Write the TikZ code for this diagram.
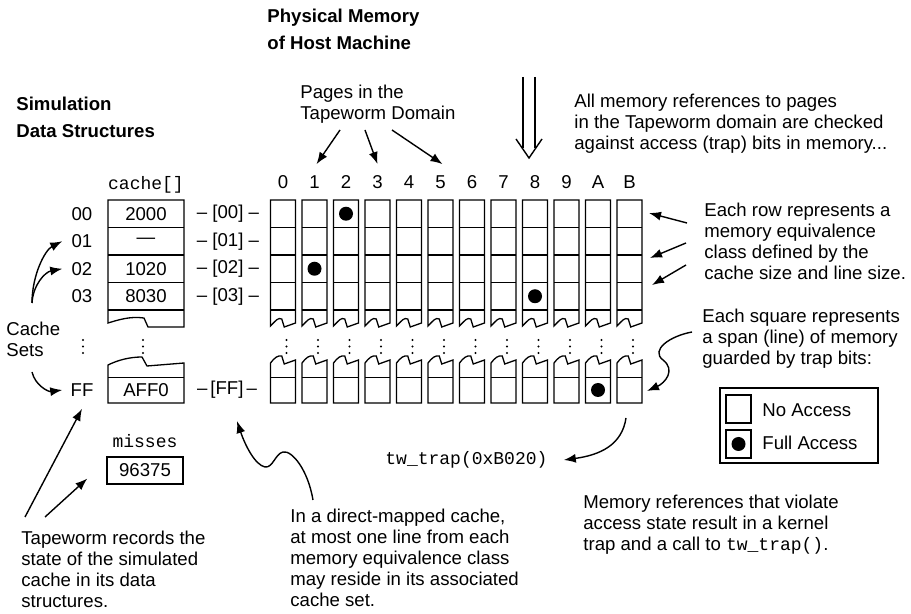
\documentclass[tikz,border=0pt]{standalone}
\usepackage{fontspec}
\setmainfont{Liberation Sans}
\setmonofont{Liberation Mono}
\usetikzlibrary{arrows.meta}

\def\colLeft{270.5}
\def\colPitch{31.5}
\def\colWidth{25}
\def\rowHeight{27.5}
\def\gridTop{200}

\tikzset{
  body/.style={font=\fontsize{9.3}{10.6}\selectfont, align=left, inner sep=0pt},
  heading/.style={font=\fontsize{9.3}{13.5}\selectfont\bfseries, align=left, inner sep=0pt},
  code/.style={font=\fontsize{9}{10}\selectfont\ttfamily, inner sep=0pt},
  arr/.style={line width=0.7pt, -{Latex[length=6pt,width=4.5pt]}},
  cell/.style={line width=0.65pt},
}

\begin{document}
\begin{tikzpicture}[x=0.5pt, y=-0.5pt]
    \useasboundingbox (0,0) rectangle (911,614);

    \node[heading, anchor=base west] (physmem) at (267,50) {Physical Memory\\of Host Machine};
    \node[heading, anchor=base west] (simdata) at (16,138) {Simulation\\Data Structures};

    \draw[line width=0.7pt] (523,77) -- (523,148) (535,77) -- (535,148);
    \draw[line width=0.7pt] (516,139) -- (529,158) -- (542,139);

    \foreach \i/\t in {0/0,1/1,2/2,3/3,4/4,5/5,6/6,7/7,8/8,9/9,10/A,11/B} {
      \pgfmathsetmacro{\x}{\colLeft+\i*\colPitch}
      \draw[cell] (\x,326) -- (\x,\gridTop) -- (\x+\colWidth,\gridTop) -- (\x+\colWidth,323) -- (\x+0.55*\colWidth,327) -- (\x+0.45*\colWidth,319) .. controls (\x+0.3*\colWidth,317) and (\x+0.2*\colWidth,321) .. cycle;
      \foreach \r in {1,...,4} {
        \draw[cell] (\x,\gridTop+\r*\rowHeight) -- (\x+\colWidth,\gridTop+\r*\rowHeight);
      }
      \draw[cell] (\x,363) .. controls (\x+0.15*\colWidth,358) and (\x+0.3*\colWidth,355) .. (\x+0.45*\colWidth,356) -- (\x+0.55*\colWidth,364) -- (\x+\colWidth,360) -- (\x+\colWidth,403) -- (\x,403) -- cycle;
      \draw[cell] (\x,377.5) -- (\x+\colWidth,377.5);
      \foreach \d in {340,346.5,353} {
        \fill (\x+0.5*\colWidth+3.5,\d) circle[radius=0.6pt];
      }
      \node[body] (col\t) at (\x+0.5*\colWidth,182) {\t};
    }
    \foreach \c/\r in {2/0,1/2,8/3} {
      \fill ({\colLeft+\c*\colPitch+0.5*\colWidth},{\gridTop+(\r+0.5)*\rowHeight}) circle[radius=3.5pt];
    }
    \fill ({\colLeft+10*\colPitch+0.5*\colWidth},390) circle[radius=3.5pt];

    \node[code] (cachename) at (146,185) {cache[]};
    \draw[cell] (184,327) -- (184,\gridTop) -- (108,\gridTop) -- (108,323) .. controls (118,320) and (130,316) .. (144,318) -- (148,327) -- cycle;
    \foreach \r in {1,...,4} {
      \draw[cell] (108,\gridTop+\r*\rowHeight) -- (184,\gridTop+\r*\rowHeight);
    }
    \draw[cell] (108,365) .. controls (118,360) and (130,357) .. (142,357) -- (147,366) -- (184,363) -- (184,403) -- (108,403) -- cycle;
    \draw[cell] (108,377.5) -- (184,377.5);
    \foreach \x in {83,143} {
      \foreach \d in {340,346.5,353} {
        \fill (\x,\d) circle[radius=0.6pt];
      }
    }

    \foreach \r/\v in {0/2000,1/\raisebox{-2pt}{\textemdash},2/1020,3/8030} {
      \node[body] (set\r) at (82,{\gridTop+(\r+0.5)*\rowHeight}) {0\r};
      \node[body] (entry\r) at (146,{\gridTop+(\r+0.5)*\rowHeight}) {\v};
      \node[body] (idx\r) at (228,{\gridTop+(\r+0.5)*\rowHeight}) {\textendash\ [0\r] \textendash};
    }
    \node[body] (setFF) at (82,390) {FF};
    \node[body] (entryFF) at (146,390) {AFF0};
    \node[body] (idxFF) at (227,390) {\textendash\,[FF]\,\textendash};

    \node[code] (missname) at (145,441) {misses};
    \node[body, draw, line width=0.65pt, minimum width=38pt, minimum height=13.5pt] (misses) at (145,470.5) {96375};

    \node[body, anchor=base west] (pages) at (300,120) {Pages in the\\Tapeworm Domain};
    \node[body, anchor=base west] (allrefs) at (574,150) {All memory references to pages\\in the Tapeworm domain are checked\\against access (trap) bits in memory...};
    \node[body, anchor=base west] (rowtext) at (704,280) {Each row represents a\\memory equivalence\\class defined by the\\cache size and line size.};
    \node[body, anchor=base west] (sqtext) at (702,365) {Each square represents\\a span (line) of memory\\guarded by trap bits:};
    \node[body, anchor=base west] (cachesets) at (6,357) {Cache\\Sets};
    \node[body, anchor=base west] (records) at (21,608) {Tapeworm records the\\state of the simulated\\cache in its data\\structures.};
    \node[body, anchor=base west] (directmap) at (290,607) {In a direct-mapped cache,\\at most one line from each\\memory equivalence class\\may reside in its associated\\cache set.};
    \node[body, anchor=base west] (trapcall) at (583,551) {Memory references that violate\\access state result in a kernel\\trap and a call to \texttt{\fontsize{9}{10}\selectfont tw\_trap()}.};
    \node[code, anchor=west] (twtrap) at (385,460) {tw\_trap(0xB020)};

    \draw[cell] (720,388) rectangle (878,463);
    \draw[cell] (726,395) rectangle (751,423);
    \draw[cell] (726,430) rectangle (751,458);
    \fill (738.5,444) circle[radius=3.5pt];
    \node[body, anchor=west] (keynone) at (762,410) {No Access};
    \node[body, anchor=west] (keyfull) at (762,443) {Full Access};

    \coordinate (pagesA) at (340,130);
    \coordinate (pagesB) at (365,130);
    \coordinate (pagesC) at (392,130);
    \draw[arr] (pagesA) -- ([xshift=1pt,yshift=5.5pt]col1.north);
    \draw[arr] (pagesB) -- ([yshift=5.5pt]col3.north);
    \draw[arr] (pagesC) -- ([xshift=1pt,yshift=5.5pt]col5.north);

    \coordinate (rowA) at (687,223);
    \coordinate (rowB) at (686,243);
    \coordinate (rowC) at (686,265);
    \draw[arr] (rowA) -- (649,213);
    \draw[arr] (rowB) -- (650,258);
    \draw[arr] (rowC) -- (652,285);
    \coordinate (sqA) at (692,332);
    \draw[arr] (sqA) .. controls (670,336) and (650,350) .. (663,360) .. controls (676,370) and (665,383) .. (647,391);
    \draw[arr] (626,418) .. controls (622,445) and (600,455) .. ([xshift=8pt]twtrap.east);

    \coordinate (setsUp) at (32,303);
    \draw[arr] (setsUp) .. controls (32,275) and (45,250) .. ([xshift=-4.5pt]set1.west);
    \draw[arr] (setsUp) .. controls (33,285) and (45,272) .. ([xshift=-4.5pt]set2.west);
    \draw[arr] (32,372) .. controls (35,385) and (48,392) .. ([xshift=-4pt]setFF.west);

    \draw[arr] (25,517) -- ([yshift=-6pt]setFF.south);
    \draw[arr] (45,517) -- ([xshift=-9.5pt,yshift=-4pt]misses.west);
    \draw[arr] (313,500) .. controls (308,470) and (292,450) .. (283,452) .. controls (275,454) and (273,468) .. (265,467) .. controls (255,465) and (245,445) .. ([xshift=5pt,yshift=-11pt]idxFF.south);
  \end{tikzpicture}
\end{document}
